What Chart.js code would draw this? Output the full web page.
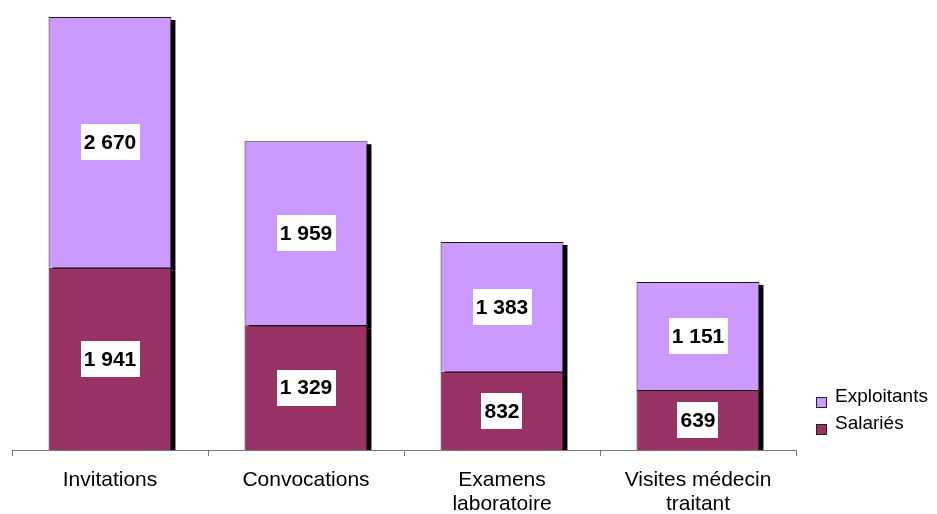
<!DOCTYPE html>
<html>
<head>
<meta charset="utf-8">
<script src="https://cdn.jsdelivr.net/npm/chart.js@4"></script>
<style>
    body { margin: 0; background: #fff; }
    #wrap { width: 937px; height: 514px; }
</style>
</head>
<body>
<div id="wrap"><canvas id="chart"></canvas></div>
<script>
let categories = ['Invitations', 'Convocations', ['Examens', 'laboratoire'], ['Visites médecin', 'traitant']];
let salaries = [1941, 1329, 832, 639];
let exploitants = [2670, 1959, 1383, 1151];
let seriesNames = ['Salariés', 'Exploitants'];
let seriesColors = ['#993366', '#CC99FF'];
let fontFamily = '"Liberation Sans", Arial, sans-serif';


// -------- ZAHLEN FORMATIEREN -------- //

function formatNumber(n) {
    return n.toString().replace(/\B(?=(\d{3})+(?!\d))/g, ' ');
}


// -------- SCHATTEN HINTER DEN BALKEN -------- //

const shadowPlugin = {
    id: 'barShadow',
    beforeDatasetsDraw(chart) {
        let ctx = chart.ctx;
        let bottom = chart.chartArea.bottom;
        ctx.save();
        ctx.fillStyle = '#000';
        chart.data.datasets.forEach((ds, i) => {
            chart.getDatasetMeta(i).data.forEach((bar) => {
                let p = bar.getProps(['x', 'y', 'base', 'width']);
                let left = p.x - p.width / 2;
                let top = Math.min(p.y, p.base) + 3;
                let end = Math.min(Math.max(p.y, p.base) + 3, bottom);
                ctx.fillRect(left + 4, top, p.width, end - top);
            });
        });
        ctx.restore();
    }
};


// -------- WERTE IN WEISSEN KAESTCHEN -------- //

const valueLabels = {
    id: 'valueLabels',
    afterDatasetsDraw(chart) {
        let ctx = chart.ctx;
        ctx.save();
        ctx.font = 'bold 21px ' + fontFamily;
        ctx.textAlign = 'center';
        ctx.textBaseline = 'middle';
        chart.data.datasets.forEach((ds, i) => {
            let meta = chart.getDatasetMeta(i);
            meta.data.forEach((bar, j) => {
                let text = formatNumber(ds.data[j]);
                let cx = bar.x;
                let cy = (bar.y + bar.base) / 2;
                let w = ctx.measureText(text).width + 6;
                let h = 36;
                ctx.fillStyle = '#fff';
                ctx.fillRect(Math.round(cx - w / 2), Math.round(cy - h / 2), Math.round(w), h);
                ctx.fillStyle = '#000';
                ctx.fillText(text, cx, cy + 1);
            });
        });
        ctx.restore();
    }
};


// -------- LEGENDE RECHTS -------- //

const sideLegend = {
    id: 'sideLegend',
    afterDraw(chart) {
        let ctx = chart.ctx;
        ctx.save();
        ctx.font = '19px ' + fontFamily;
        ctx.textBaseline = 'middle';
        let order = [1, 0];
        order.forEach((idx, k) => {
            let y = 397 + k * 27;
            ctx.fillStyle = seriesColors[idx];
            ctx.fillRect(816, y, 11, 11);
            ctx.strokeStyle = '#222';
            ctx.lineWidth = 1;
            ctx.strokeRect(816.5, y + 0.5, 10, 10);
            ctx.fillStyle = '#000';
            ctx.fillText(seriesNames[idx], 835, y);
        });
        ctx.restore();
    }
};


new Chart(document.getElementById('chart'), {
    type: 'bar',
    data: {
        labels: categories,
        datasets: [{
            label: seriesNames[0],
            data: salaries,
            backgroundColor: seriesColors[0],
            borderColor: '#1a1a1a',
            borderWidth: 1,
            barPercentage: 0.627,
            categoryPercentage: 1
        }, {
            label: seriesNames[1],
            data: exploitants,
            backgroundColor: seriesColors[1],
            borderColor: '#1a1a1a',
            borderWidth: 1,
            barPercentage: 0.627,
            categoryPercentage: 1
        }]
    },
    options: {
        responsive: true,
        maintainAspectRatio: false,
        animation: false,
        layout: {
            padding: { left: 12, right: 141, top: 17, bottom: 0 }
        },
        scales: {
            x: {
                stacked: true,
                offset: true,
                grid: {
                    display: true,
                    offset: true,
                    drawOnChartArea: false,
                    drawTicks: true,
                    tickLength: 6,
                    color: '#777'
                },
                border: { display: true, color: '#777', width: 1 },
                ticks: {
                    color: '#000',
                    padding: 12,
                    maxRotation: 0,
                    autoSkip: false,
                    font: { family: fontFamily, size: 21, lineHeight: 1.15 }
                },
                afterFit(scale) {
                    scale.height = 64;
                }
            },
            y: {
                stacked: true,
                display: false,
                min: 0,
                max: 4611
            }
        },
        plugins: {
            legend: { display: false },
            tooltip: { enabled: false }
        }
    },
    plugins: [shadowPlugin, valueLabels, sideLegend]
});
</script>
</body>
</html>
